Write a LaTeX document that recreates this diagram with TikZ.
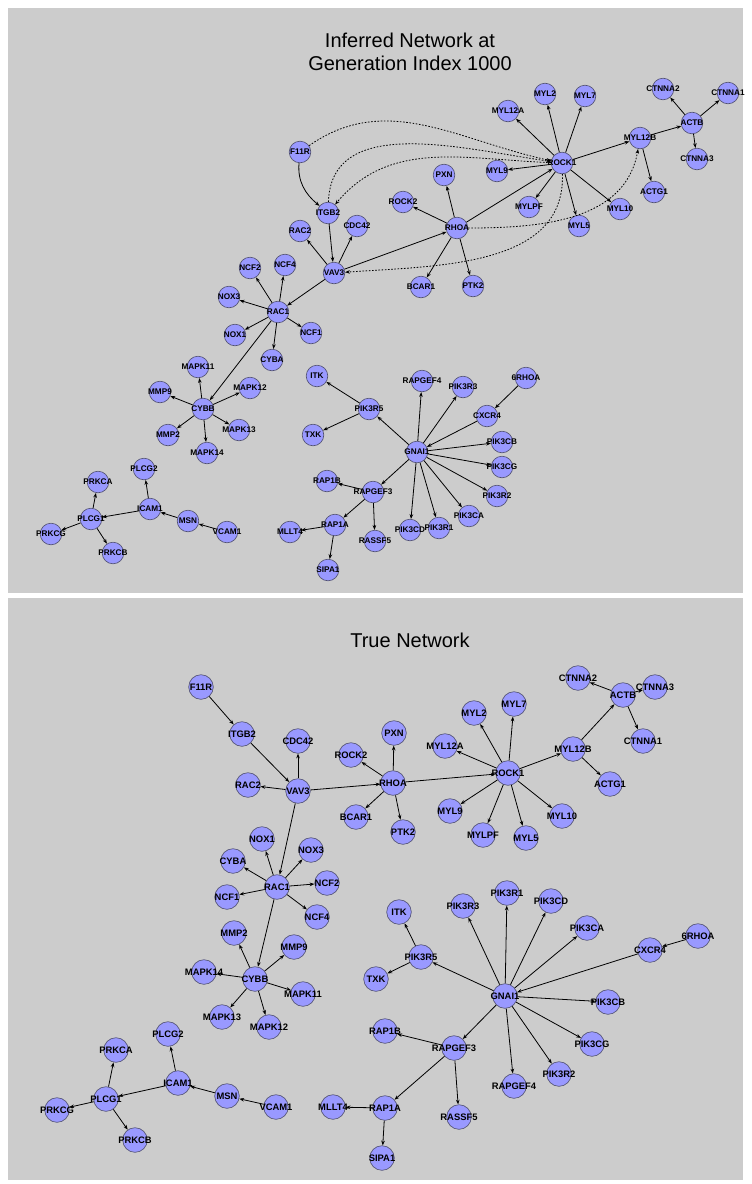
\documentclass[tikz,border=0pt]{standalone}
\usepackage{fontspec}
\setmainfont{Liberation Sans}
\usetikzlibrary{arrows.meta}
\definecolor{panel}{HTML}{CCCCCC}
\definecolor{blob}{HTML}{9999FF}
\definecolor{rim}{HTML}{4F4F6E}
\tikzset{
  inode/.style={circle,draw=rim,fill=blob,line width=.6pt,minimum size=21.6pt,inner sep=0pt,
    label={[font=\bfseries\fontsize{8.2}{9}\selectfont,inner sep=0pt]center:#1}},
  tnode/.style={circle,draw=rim,fill=blob,line width=.6pt,minimum size=24.6pt,inner sep=0pt,
    label={[font=\bfseries\fontsize{9.4}{10}\selectfont,inner sep=0pt]center:#1}},
  link/.style={line width=.8pt,-{Stealth[length=4.8pt,width=3.6pt]}},
  guess/.style={link,dash pattern=on 1.6pt off 1.6pt},
  headline/.style={font=\fontsize{20}{23}\selectfont,align=center}
}
\begin{document}
\begin{tikzpicture}[x=1pt,y=-1pt]
\fill[white] (0,0) rectangle (752,1184);
\fill[panel] (8,8) rectangle (743,593);
\fill[panel] (8,598) rectangle (743,1180);
\node[headline] (ititle) at (410,52) {Inferred Network at\\Generation Index 1000};
\node[headline] (ttitle) at (410,640) {True Network};

\node[inode=F11R] (if11r) at (300,152) {};
\node[inode=ITGB2] (iitgb2) at (328,213) {};
\node[inode=RAC2] (irac2) at (300,231) {};
\node[inode=CDC42] (icdc42) at (357,226) {};
\node[inode=VAV3] (ivav3) at (334,273) {};
\node[inode=ROCK2] (irock2) at (403,202) {};
\node[inode=PXN] (ipxn) at (444,175) {};
\node[inode=RHOA] (irhoa) at (457,228) {};
\node[inode=BCAR1] (ibcar1) at (421,287) {};
\node[inode=PTK2] (iptk2) at (473,286) {};
\node[inode=ROCK1] (irock1) at (562,163) {};
\node[inode=MYL12A] (imyl12a) at (508,111) {};
\node[inode=MYL2] (imyl2) at (545,94) {};
\node[inode=MYL7] (imyl7) at (585,96) {};
\node[inode=MYL9] (imyl9) at (497,171) {};
\node[inode=MYLPF] (imylpf) at (529,207) {};
\node[inode=MYL5] (imyl5) at (579,226) {};
\node[inode=MYL10] (imyl10) at (620,209) {};
\node[inode=MYL12B] (imyl12b) at (640,138) {};
\node[inode=ACTB] (iactb) at (692,123) {};
\node[inode=CTNNA2] (ictnna2) at (663,89) {};
\node[inode=CTNNA1] (ictnna1) at (728,93) {};
\node[inode=CTNNA3] (ictnna3) at (697,159) {};
\node[inode=ACTG1] (iactg1) at (654,192) {};
\node[inode=NCF2] (incf2) at (250,268) {};
\node[inode=NCF4] (incf4) at (285,265) {};
\node[inode=NOX3] (inox3) at (229,297) {};
\node[inode=RAC1] (irac1) at (278,312) {};
\node[inode=NOX1] (inox1) at (235,335) {};
\node[inode=NCF1] (incf1) at (311,333) {};
\node[inode=CYBA] (icyba) at (272,360) {};
\node[inode=MAPK11] (imapk11) at (198,367) {};
\node[inode=MMP9] (immp9) at (160,392) {};
\node[inode=CYBB] (icybb) at (203,409) {};
\node[inode=MAPK12] (imapk12) at (250,388) {};
\node[inode=MMP2] (immp2) at (168,435) {};
\node[inode=MAPK13] (imapk13) at (239,430) {};
\node[inode=MAPK14] (imapk14) at (207,453) {};
\node[inode=PRKCA] (iprkca) at (98,482) {};
\node[inode=PLCG2] (iplcg2) at (144,469) {};
\node[inode=PLCG1] (iplcg1) at (91,519) {};
\node[inode=ICAM1] (iicam1) at (150,509) {};
\node[inode=MSN] (imsn) at (188,521) {};
\node[inode=VCAM1] (ivcam1) at (227,532) {};
\node[inode=PRKCG] (iprkcg) at (51,534) {};
\node[inode=PRKCB] (iprkcb) at (113,553) {};
\node[inode=ITK] (iitk) at (317,376) {};
\node[inode=PIK3R5] (ipik3r5) at (369,409) {};
\node[inode=TXK] (itxk) at (313,435) {};
\node[inode=RAPGEF4] (irapgef4) at (422,381) {};
\node[inode=PIK3R3] (ipik3r3) at (463,387) {};
\node[inode=6RHOA] (i6rhoa) at (526,378) {};
\node[inode=CXCR4] (icxcr4) at (487,416) {};
\node[inode=GNAI1] (ignai1) at (417,452) {};
\node[inode=PIK3CB] (ipik3cb) at (502,442) {};
\node[inode=PIK3CG] (ipik3cg) at (502,467) {};
\node[inode=PIK3R2] (ipik3r2) at (497,496) {};
\node[inode=PIK3CA] (ipik3ca) at (469,516) {};
\node[inode=PIK3R1] (ipik3r1) at (439,528) {};
\node[inode=PIK3CD] (ipik3cd) at (410,530) {};
\node[inode=RAP1B] (irap1b) at (327,481) {};
\node[inode=RAPGEF3] (irapgef3) at (373,492) {};
\node[inode=RAP1A] (irap1a) at (335,525) {};
\node[inode=RASSF5] (irassf5) at (375,541) {};
\node[inode=SIPA1] (isipa1) at (328,570) {};
\node[inode=MLLT4] (imllt4) at (290,532) {};

\draw[link] (if11r) to[out=-95,in=140] (iitgb2);
\draw[link] (iitgb2) edge (ivav3);
\draw[link] (ivav3) edge (irac2) edge (icdc42) edge (irhoa) edge (irac1);
\draw[link] (irhoa) edge (irock2) edge (ipxn) edge (ibcar1) edge (iptk2) edge (irock1);
\draw[link] (irock1) edge (imyl12a) edge (imyl2) edge (imyl7) edge (imyl9) edge (imylpf) edge (imyl5) edge (imyl10) edge (imyl12b);
\draw[link] (imyl12b) edge (iactb) edge (iactg1);
\draw[link] (iactb) edge (ictnna2) edge (ictnna1) edge (ictnna3);
\draw[link] (irac1) edge (incf2) edge (incf4) edge (inox3) edge (inox1) edge (incf1) edge (icyba) edge (icybb);
\draw[link] (icybb) edge (imapk11) edge (immp9) edge (imapk12) edge (immp2) edge (imapk13) edge (imapk14);
\draw[link] (iicam1) edge (iplcg2) edge (iplcg1);
\draw[link] (imsn) edge (iicam1);
\draw[link] (ivcam1) edge (imsn);
\draw[link] (iplcg1) edge (iprkca) edge (iprkcg) edge (iprkcb);
\draw[link] (ipik3r5) edge (iitk) edge (itxk);
\draw[link] (i6rhoa) edge (icxcr4);
\draw[link] (icxcr4) edge (ignai1);
\draw[link] (ignai1) edge (ipik3r5) edge (irapgef4) edge (ipik3r3) edge (ipik3cb) edge (ipik3cg) edge (ipik3r2) edge (ipik3ca) edge (ipik3r1) edge (ipik3cd) edge (irapgef3);
\draw[link] (irapgef3) edge (irap1b) edge (irap1a) edge (irassf5);
\draw[link] (irap1a) edge (imllt4) edge (isipa1);
\draw[guess] (if11r) to[out=35,in=168] (irock1);
\draw[guess] (iitgb2) to[out=88,in=172] (irock1);
\draw[guess] (irock1) to[out=178,in=50] (iitgb2);
\draw[guess] (irhoa) to[out=0,in=-100] (imyl12b);
\draw[guess] (irock1) to[out=-88,in=4] (ivav3);

\node[tnode=F11R] (tf11r) at (201,687) {};
\node[tnode=ITGB2] (titgb2) at (242,734) {};
\node[tnode=CDC42] (tcdc42) at (298,741) {};
\node[tnode=RAC2] (trac2) at (248,785) {};
\node[tnode=VAV3] (tvav3) at (298,791) {};
\node[tnode=PXN] (tpxn) at (394,733) {};
\node[tnode=ROCK2] (trock2) at (351,755) {};
\node[tnode=RHOA] (trhoa) at (393,783) {};
\node[tnode=BCAR1] (tbcar1) at (356,817) {};
\node[tnode=PTK2] (tptk2) at (403,832) {};
\node[tnode=MYL12A] (tmyl12a) at (445,746) {};
\node[tnode=MYL9] (tmyl9) at (450,811) {};
\node[tnode=ROCK1] (trock1) at (508,773) {};
\node[tnode=MYL2] (tmyl2) at (474,713) {};
\node[tnode=MYL7] (tmyl7) at (514,704) {};
\node[tnode=MYL12B] (tmyl12b) at (573,749) {};
\node[tnode=ACTB] (tactb) at (623,695) {};
\node[tnode=CTNNA2] (tctnna2) at (578,678) {};
\node[tnode=CTNNA3] (tctnna3) at (655,687) {};
\node[tnode=CTNNA1] (tctnna1) at (643,741) {};
\node[tnode=ACTG1] (tactg1) at (610,784) {};
\node[tnode=MYL10] (tmyl10) at (562,816) {};
\node[tnode=MYLPF] (tmylpf) at (483,835) {};
\node[tnode=MYL5] (tmyl5) at (526,838) {};
\node[tnode=NOX1] (tnox1) at (262,839) {};
\node[tnode=CYBA] (tcyba) at (233,861) {};
\node[tnode=NOX3] (tnox3) at (311,850) {};
\node[tnode=RAC1] (trac1) at (277,887) {};
\node[tnode=NCF2] (tncf2) at (327,883) {};
\node[tnode=NCF1] (tncf1) at (227,897) {};
\node[tnode=NCF4] (tncf4) at (317,917) {};
\node[tnode=MMP2] (tmmp2) at (234,933) {};
\node[tnode=MMP9] (tmmp9) at (294,947) {};
\node[tnode=MAPK14] (tmapk14) at (204,972) {};
\node[tnode=CYBB] (tcybb) at (255,979) {};
\node[tnode=MAPK11] (tmapk11) at (303,994) {};
\node[tnode=MAPK13] (tmapk13) at (222,1017) {};
\node[tnode=MAPK12] (tmapk12) at (269,1027) {};
\node[tnode=ITK] (titk) at (399,912) {};
\node[tnode=PIK3R3] (tpik3r3) at (463,906) {};
\node[tnode=PIK3R1] (tpik3r1) at (507,893) {};
\node[tnode=PIK3CD] (tpik3cd) at (551,901) {};
\node[tnode=PIK3CA] (tpik3ca) at (587,928) {};
\node[tnode=6RHOA] (t6rhoa) at (698,936) {};
\node[tnode=CXCR4] (tcxcr4) at (650,950) {};
\node[tnode=PIK3R5] (tpik3r5) at (421,957) {};
\node[tnode=TXK] (ttxk) at (376,979) {};
\node[tnode=GNAI1] (tgnai1) at (505,996) {};
\node[tnode=PIK3CB] (tpik3cb) at (608,1002) {};
\node[tnode=RAP1B] (trap1b) at (385,1031) {};
\node[tnode=RAPGEF3] (trapgef3) at (454,1048) {};
\node[tnode=PIK3CG] (tpik3cg) at (592,1044) {};
\node[tnode=PIK3R2] (tpik3r2) at (559,1074) {};
\node[tnode=RAPGEF4] (trapgef4) at (514,1086) {};
\node[tnode=MLLT4] (tmllt4) at (333,1107) {};
\node[tnode=RAP1A] (trap1a) at (385,1108) {};
\node[tnode=RASSF5] (trassf5) at (459,1117) {};
\node[tnode=SIPA1] (tsipa1) at (382,1158) {};
\node[tnode=PLCG2] (tplcg2) at (168,1034) {};
\node[tnode=PRKCA] (tprkca) at (116,1050) {};
\node[tnode=ICAM1] (ticam1) at (178,1083) {};
\node[tnode=MSN] (tmsn) at (227,1096) {};
\node[tnode=VCAM1] (tvcam1) at (276,1107) {};
\node[tnode=PLCG1] (tplcg1) at (106,1099) {};
\node[tnode=PRKCG] (tprkcg) at (57,1110) {};
\node[tnode=PRKCB] (tprkcb) at (135,1140) {};

\draw[link] (tf11r) edge (titgb2);
\draw[link] (titgb2) edge (tvav3);
\draw[link] (tvav3) edge (tcdc42) edge (trac2) edge (trhoa) edge (trac1);
\draw[link] (trhoa) edge (tpxn) edge (trock2) edge (tbcar1) edge (tptk2) edge (trock1);
\draw[link] (trock1) edge (tmyl12a) edge (tmyl2) edge (tmyl7) edge (tmyl9) edge (tmylpf) edge (tmyl5) edge (tmyl10) edge (tmyl12b);
\draw[link] (tmyl12b) edge (tactb) edge (tactg1);
\draw[link] (tactb) edge (tctnna2) edge (tctnna3) edge (tctnna1);
\draw[link] (trac1) edge (tnox1) edge (tcyba) edge (tncf1) edge (tnox3) edge (tncf2) edge (tncf4) edge (tcybb);
\draw[link] (tcybb) edge (tmmp2) edge (tmmp9) edge (tmapk14) edge (tmapk11) edge (tmapk13) edge (tmapk12);
\draw[link] (tpik3r5) edge (titk) edge (ttxk);
\draw[link] (tgnai1) edge (tpik3r5) edge (tpik3r3) edge (tpik3r1) edge (tpik3cd) edge (tpik3ca) edge (tpik3cb) edge (tpik3cg) edge (tpik3r2) edge (trapgef4) edge (trapgef3);
\draw[link] (tcxcr4) edge (tgnai1);
\draw[link] (t6rhoa) edge (tcxcr4);
\draw[link] (trapgef3) edge (trap1b) edge (trap1a) edge (trassf5);
\draw[link] (trap1a) edge (tmllt4) edge (tsipa1);
\draw[link] (ticam1) edge (tplcg2) edge (tplcg1);
\draw[link] (tmsn) edge (ticam1);
\draw[link] (tvcam1) edge (tmsn);
\draw[link] (tplcg1) edge (tprkca) edge (tprkcg) edge (tprkcb);
\end{tikzpicture}
\end{document}
